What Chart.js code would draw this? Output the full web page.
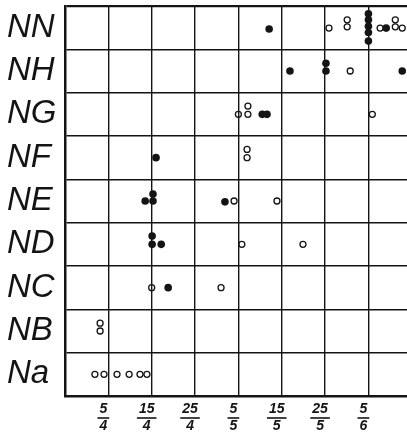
<!DOCTYPE html>
<html>
<head>
<meta charset="utf-8">
<script src="https://cdn.jsdelivr.net/npm/chart.js@4/dist/chart.umd.min.js"></script>
<style>
  body { margin: 0; background: #fff; }
  canvas { display: block; }
</style>
</head>
<body>
<canvas id="chart" width="407" height="435"></canvas>
<script>
// rows from bottom to top
const rowLabels = ['Na', 'NB', 'NC', 'ND', 'NE', 'NF', 'NG', 'NH', 'NN'];
// x ticks 1..7 as fractions [numerator, denominator]
const xTickLabels = [['5', '4'], ['15', '4'], ['25', '4'], ['5', '5'], ['15', '5'], ['25', '5'], ['5', '6']];

// filled circles [x, y]
const filledPoints = [
    [4.71, 8.47], [7.0, 8.82], [7.0, 8.68], [7.0, 8.53], [7.0, 8.39], [7.0, 8.19], [7.41, 8.49],
    [5.19, 7.5], [6.02, 7.68], [6.02, 7.5], [7.78, 7.5],
    [4.55, 6.5], [4.66, 6.5],
    [2.1, 5.5],
    [1.85, 4.5], [2.03, 4.66], [2.03, 4.5], [3.69, 4.48],
    [2.01, 3.69], [2.01, 3.5], [2.22, 3.5],
    [2.38, 2.5]
];

// open circles [x, y]
const openPoints = [
    [6.09, 8.49], [6.51, 8.68], [6.51, 8.52], [7.27, 8.49], [7.62, 8.68], [7.62, 8.52], [7.78, 8.49],
    [6.58, 7.5],
    [4.0, 6.5], [4.22, 6.69], [4.22, 6.5], [7.09, 6.5],
    [4.2, 5.69], [4.2, 5.5],
    [3.9, 4.5], [4.89, 4.5],
    [4.08, 3.5], [5.49, 3.5],
    [2.0, 2.5], [3.6, 2.5],
    [0.81, 1.68], [0.81, 1.5],
    [0.69, 0.5], [0.9, 0.5], [1.2, 0.5], [1.48, 0.5], [1.73, 0.5], [1.89, 0.5]
];

const ink = '#141414';
const xFont = 'italic bold 14px "Liberation Sans"';

// draws the bar of each fraction label
const fractionBars = {
    id: 'fractionBars',
    afterDraw(chart) {
        const ctx = chart.ctx;
        const x = chart.scales.x;
        ctx.save();
        ctx.font = xFont;
        ctx.strokeStyle = ink;
        ctx.lineWidth = 1.6;
        xTickLabels.forEach((lab, i) => {
            const cx = x.getPixelForValue(i + 1) + x.options.ticks.labelOffset;
            const w = Math.max(ctx.measureText(lab[0]).width, ctx.measureText(lab[1]).width) + 4;
            const y = x.top + 22;
            ctx.beginPath();
            ctx.moveTo(cx - w / 2, y);
            ctx.lineTo(cx + w / 2, y);
            ctx.stroke();
        });
        ctx.restore();
    }
};

const ctx = document.getElementById('chart').getContext('2d');
new Chart(ctx, {
    type: 'scatter',
    data: {
        datasets: [{
            label: 'filled',
            data: filledPoints.map(p => ({ x: p[0], y: p[1] })),
            pointRadius: 3.8,
            pointBackgroundColor: ink,
            pointBorderColor: ink,
            pointBorderWidth: 0
        }, {
            label: 'open',
            data: openPoints.map(p => ({ x: p[0], y: p[1] })),
            pointRadius: 3,
            pointBackgroundColor: 'rgba(0,0,0,0)',
            pointBorderColor: ink,
            pointBorderWidth: 1.3
        }]
    },
    options: {
        responsive: false,
        animation: false,
        events: [],
        layout: { autoPadding: false, padding: { top: 6, left: 7, right: 0, bottom: 0 } },
        plugins: {
            legend: { display: false },
            tooltip: { enabled: false }
        },
        scales: {
            x: {
                type: 'linear',
                min: 0,
                max: 7.89,
                afterBuildTicks: s => { s.ticks = [0, 1, 2, 3, 4, 5, 6, 7].map(v => ({ value: v })); },
                afterFit: s => { s.height = 39; s.paddingLeft = 0; s.paddingRight = 0; },
                border: { color: ink, width: 2.5 },
                grid: { color: ink, lineWidth: 1.4, drawTicks: false },
                ticks: {
                    autoSkip: false,
                    maxRotation: 0,
                    color: ink,
                    font: { family: 'Liberation Sans', size: 14, style: 'italic', weight: 'bold', lineHeight: 1.2 },
                    padding: 5,
                    labelOffset: -5,
                    callback: v => (v >= 1 ? xTickLabels[v - 1] : '')
                }
            },
            y: {
                type: 'linear',
                min: 0,
                max: 9,
                afterBuildTicks: s => { s.ticks = [0, 1, 2, 3, 4, 5, 6, 7, 8, 9].map(v => ({ value: v })); },
                afterFit: s => { s.width = 58; s.paddingTop = 0; s.paddingBottom = 0; },
                border: { color: ink, width: 2.5 },
                grid: {
                    color: ink,
                    lineWidth: c => (c.tick && c.tick.value === 9 ? 2.2 : 1.4),
                    drawTicks: false
                },
                ticks: {
                    autoSkip: false,
                    color: ink,
                    crossAlign: 'far',
                    labelOffset: -21.7,
                    font: { family: 'Liberation Sans', size: 33, style: 'italic', weight: 'normal' },
                    callback: v => (v < 9 ? rowLabels[v] : '')
                }
            }
        }
    },
    plugins: [fractionBars]
});
</script>
</body>
</html>
